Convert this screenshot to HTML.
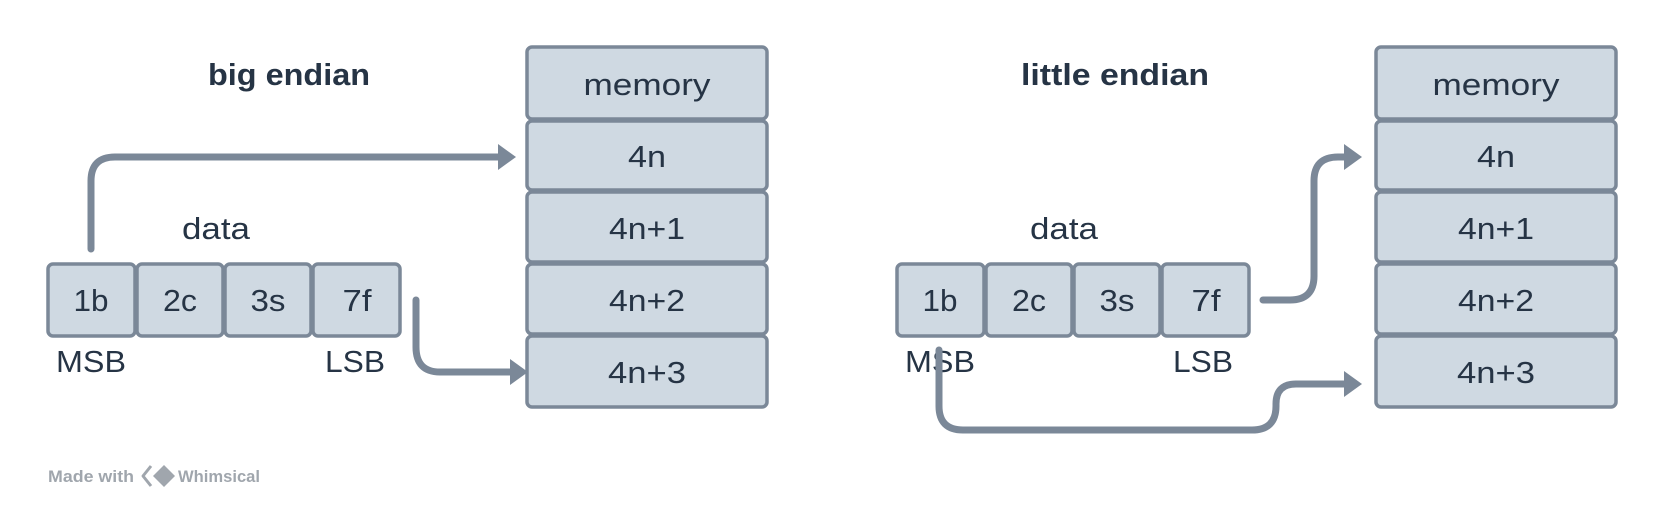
<!DOCTYPE html>
<html><head><meta charset="utf-8"><style>
html,body{margin:0;padding:0;background:#fff;}
svg{display:block;}
text{font-family:"Liberation Sans",sans-serif;fill:#263445;}
.b{fill:#cfd9e2;stroke:#7b8898;stroke-width:3.5;}
.a{fill:none;stroke:#7b8898;stroke-width:7;stroke-linecap:round;stroke-linejoin:round;}
.h{fill:#7b8898;}
</style></head><body>
<svg width="1664" height="512" viewBox="0 0 1664 512">
<g>
<text x="289" y="85" font-size="31" font-weight="bold" text-anchor="middle" textLength="162" lengthAdjust="spacingAndGlyphs">big endian</text>
<g>
<rect class="b" x="527" y="47" width="240" height="72" rx="5"/><text x="647" y="95" font-size="31" text-anchor="middle" textLength="127" lengthAdjust="spacingAndGlyphs">memory</text>
<rect class="b" x="527" y="121" width="240" height="69" rx="5"/><text x="647" y="167" font-size="31" text-anchor="middle" textLength="38" lengthAdjust="spacingAndGlyphs">4n</text>
<rect class="b" x="527" y="192" width="240" height="70" rx="5"/><text x="647" y="239" font-size="31" text-anchor="middle" textLength="76" lengthAdjust="spacingAndGlyphs">4n+1</text>
<rect class="b" x="527" y="264" width="240" height="70" rx="5"/><text x="647" y="311" font-size="31" text-anchor="middle" textLength="76" lengthAdjust="spacingAndGlyphs">4n+2</text>
<rect class="b" x="527" y="336" width="240" height="71" rx="5"/><text x="647" y="383" font-size="31" text-anchor="middle" textLength="78" lengthAdjust="spacingAndGlyphs">4n+3</text>
</g>
<text x="216" y="239" font-size="31" text-anchor="middle" textLength="68" lengthAdjust="spacingAndGlyphs">data</text>
<g>
<rect class="b" x="48" y="264" width="87" height="72" rx="5"/><text x="91" y="311" font-size="31" text-anchor="middle" textLength="35" lengthAdjust="spacingAndGlyphs">1b</text>
<rect class="b" x="137" y="264" width="86" height="72" rx="5"/><text x="180" y="311" font-size="31" text-anchor="middle" textLength="34" lengthAdjust="spacingAndGlyphs">2c</text>
<rect class="b" x="225" y="264" width="86" height="72" rx="5"/><text x="268" y="311" font-size="31" text-anchor="middle" textLength="35" lengthAdjust="spacingAndGlyphs">3s</text>
<rect class="b" x="313" y="264" width="87" height="72" rx="5"/><text x="357" y="311" font-size="31" text-anchor="middle" textLength="29" lengthAdjust="spacingAndGlyphs">7f</text>
</g>
<text x="91" y="372" font-size="31" text-anchor="middle" textLength="70" lengthAdjust="spacingAndGlyphs">MSB</text>
<text x="355" y="372" font-size="31" text-anchor="middle" textLength="60" lengthAdjust="spacingAndGlyphs">LSB</text>
<g>
<path class="a" d="M91,249 V181 Q91,157 115,157 H500"/><path class="h" d="M498,144 L516,157 L498,170 Z"/>
</g>
<g>
<path class="a" d="M416,300 V347 Q416,372 440,372 H512"/><path class="h" d="M510,359 L528,372 L510,385 Z"/>
</g>
<g>
<text x="48" y="482" font-size="17" font-weight="bold" textLength="86" lengthAdjust="spacingAndGlyphs" style="fill:#a0a6ad">Made with</text>
<path d="M151,466 L143,476 L151,486" fill="none" stroke="#a0a6ad" stroke-width="3" stroke-linejoin="round"/>
<path d="M164,465 L175,476 L164,487 L153,476 Z" fill="#a0a6ad"/>
<text x="178" y="482" font-size="17" font-weight="bold" textLength="82" lengthAdjust="spacingAndGlyphs" style="fill:#a0a6ad">Whimsical</text>
</g>
</g>
<g>
<text x="1115" y="85" font-size="31" font-weight="bold" text-anchor="middle" textLength="188" lengthAdjust="spacingAndGlyphs">little endian</text>
<g>
<rect class="b" x="1376" y="47" width="240" height="72" rx="5"/><text x="1496" y="95" font-size="31" text-anchor="middle" textLength="127" lengthAdjust="spacingAndGlyphs">memory</text>
<rect class="b" x="1376" y="121" width="240" height="69" rx="5"/><text x="1496" y="167" font-size="31" text-anchor="middle" textLength="38" lengthAdjust="spacingAndGlyphs">4n</text>
<rect class="b" x="1376" y="192" width="240" height="70" rx="5"/><text x="1496" y="239" font-size="31" text-anchor="middle" textLength="76" lengthAdjust="spacingAndGlyphs">4n+1</text>
<rect class="b" x="1376" y="264" width="240" height="70" rx="5"/><text x="1496" y="311" font-size="31" text-anchor="middle" textLength="76" lengthAdjust="spacingAndGlyphs">4n+2</text>
<rect class="b" x="1376" y="336" width="240" height="71" rx="5"/><text x="1496" y="383" font-size="31" text-anchor="middle" textLength="78" lengthAdjust="spacingAndGlyphs">4n+3</text>
</g>
<text x="1064" y="239" font-size="31" text-anchor="middle" textLength="68" lengthAdjust="spacingAndGlyphs">data</text>
<g>
<rect class="b" x="897" y="264" width="87" height="72" rx="5"/><text x="940" y="311" font-size="31" text-anchor="middle" textLength="35" lengthAdjust="spacingAndGlyphs">1b</text>
<rect class="b" x="986" y="264" width="86" height="72" rx="5"/><text x="1029" y="311" font-size="31" text-anchor="middle" textLength="34" lengthAdjust="spacingAndGlyphs">2c</text>
<rect class="b" x="1074" y="264" width="86" height="72" rx="5"/><text x="1117" y="311" font-size="31" text-anchor="middle" textLength="35" lengthAdjust="spacingAndGlyphs">3s</text>
<rect class="b" x="1162" y="264" width="87" height="72" rx="5"/><text x="1206" y="311" font-size="31" text-anchor="middle" textLength="29" lengthAdjust="spacingAndGlyphs">7f</text>
</g>
<text x="940" y="372" font-size="31" text-anchor="middle" textLength="70" lengthAdjust="spacingAndGlyphs">MSB</text>
<text x="1203" y="372" font-size="31" text-anchor="middle" textLength="60" lengthAdjust="spacingAndGlyphs">LSB</text>
<g>
<path class="a" d="M1263,300 H1290 Q1314,300 1314,276 V181 Q1314,157 1338,157 H1346"/><path class="h" d="M1344,144 L1362,157 L1344,170 Z"/>
</g>
<g>
<path class="a" d="M939,350 V406 Q939,430 963,430 H1252 Q1276,430 1276,406 V404 Q1276,384 1296,384 H1346"/><path class="h" d="M1344,371 L1362,384 L1344,397 Z"/>
</g>
</g>
</svg>
</body></html>
